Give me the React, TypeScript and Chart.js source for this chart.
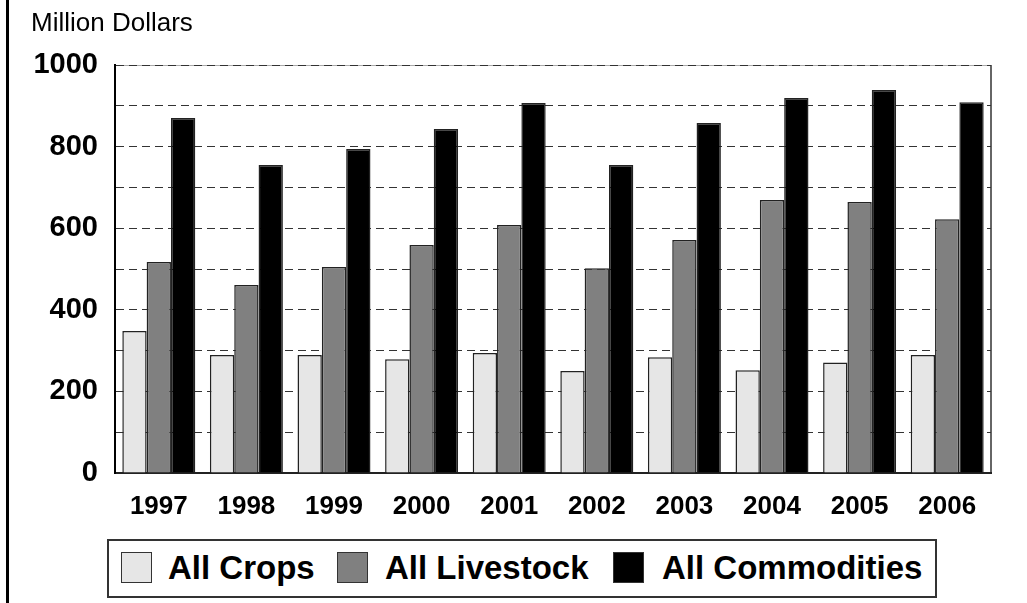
import React, { useEffect, useRef } from "react";
import { Chart, registerables } from "chart.js";

Chart.register(...registerables);

const years = ["1997", "1998", "1999", "2000", "2001", "2002", "2003", "2004", "2005", "2006"];
const allCrops = [348, 289, 289, 279, 294, 250, 284, 252, 271, 289];
const allLivestock = [517, 461, 505, 559, 608, 502, 571, 669, 664, 622];
const allCommodities = [870, 755, 794, 843, 907, 755, 858, 919, 939, 909];
const seriesNames = ["All Crops", "All Livestock", "All Commodities"];
const seriesColors = ["#e6e6e6", "#808080", "#000000"];

const FONT = '"Liberation Sans", Arial, Helvetica, sans-serif';

const framePlugin = {
  id: "frame",
  beforeDraw(chart: any) {
    const { ctx, chartArea } = chart;
    ctx.save();
    ctx.fillStyle = "#ffffff";
    ctx.fillRect(0, 0, chart.width, chart.height);
    ctx.strokeStyle = "#aaaaaa";
    ctx.lineWidth = 1;
    ctx.beginPath();
    ctx.moveTo(chartArea.left, chartArea.top + 0.5);
    ctx.lineTo(chartArea.right, chartArea.top + 0.5);
    ctx.stroke();
    ctx.strokeStyle = "#666666";
    ctx.lineWidth = 2;
    ctx.beginPath();
    ctx.moveTo(chartArea.right, chartArea.top);
    ctx.lineTo(chartArea.right, chartArea.bottom);
    ctx.stroke();
    ctx.restore();
  },
};

export default function App() {
  const canvasRef = useRef<HTMLCanvasElement | null>(null);

  useEffect(() => {
    const canvas = canvasRef.current;
    if (!canvas) return;
    const values = [allCrops, allLivestock, allCommodities];
    const chart = new Chart(canvas, {
      type: "bar",
      data: {
        labels: years,
        datasets: seriesNames.map((name, i) => ({
          label: name,
          data: values[i],
          backgroundColor: seriesColors[i],
          borderColor: "#222222",
          borderWidth: 1.5,
          categoryPercentage: 0.833,
          barPercentage: 1.0,
        })),
      },
      options: {
        responsive: false,
        animation: false,
        devicePixelRatio: 1,
        layout: { padding: { top: 65, right: 36, left: 0, bottom: 0 } },
        plugins: {
          legend: { display: false },
          tooltip: { enabled: false },
          title: { display: false },
        },
        scales: {
          x: {
            type: "category",
            grid: { display: false, drawTicks: false },
            border: { display: true, color: "#222222", width: 2 },
            ticks: {
              color: "#000000",
              font: { family: FONT, size: 26, weight: "bold" },
              padding: 18,
              maxRotation: 0,
              autoSkip: false,
            },
            afterFit: (scale: any) => {
              scale.height = 67;
            },
          },
          y: {
            min: 0,
            max: 1000,
            grid: { color: "#333333", lineWidth: 1, drawTicks: false },
            border: { display: true, color: "#000000", width: 2, dash: [8, 5] },
            ticks: {
              stepSize: 100,
              color: "#000000",
              font: { family: FONT, size: 29, weight: "bold" },
              padding: 17,
              autoSkip: false,
              callback: (v: any) => (Number(v) % 200 === 0 ? String(v) : ""),
            },
            afterFit: (scale: any) => {
              scale.width = 115;
            },
          },
        },
      },
      plugins: [framePlugin],
    });
    return () => chart.destroy();
  }, []);

  const legendItems = [
    { box: 121, text: 168 },
    { box: 337, text: 385 },
    { box: 613, text: 662 },
  ];

  return (
    <div
      style={{
        position: "fixed",
        left: 0,
        top: 0,
        width: 1027,
        height: 603,
        background: "#ffffff",
        overflow: "hidden",
        fontFamily: FONT,
      }}
    >
      <canvas
        ref={canvasRef}
        width={1027}
        height={540}
        style={{ position: "absolute", left: 0, top: 0, width: 1027, height: 540 }}
      />
      <div style={{ position: "absolute", left: 6, top: 0, width: 3, height: 603, background: "#000" }} />
      <div
        style={{
          position: "absolute",
          left: 31,
          top: 9,
          fontSize: 26,
          lineHeight: "26px",
          color: "#000",
          whiteSpace: "nowrap",
        }}
      >
        Million Dollars
      </div>
      <div
        style={{
          position: "absolute",
          left: 107,
          top: 539,
          width: 830,
          height: 59,
          boxSizing: "border-box",
          border: "2px solid #333",
          background: "#fff",
        }}
      />
      {legendItems.map((it, i) => (
        <React.Fragment key={seriesNames[i]}>
          <div
            style={{
              position: "absolute",
              left: it.box,
              top: 552,
              width: 31,
              height: 31,
              boxSizing: "border-box",
              border: "1px solid #333",
              background: seriesColors[i],
            }}
          />
          <div
            style={{
              position: "absolute",
              left: it.text,
              top: 551,
              fontSize: 33,
              lineHeight: "33px",
              fontWeight: "bold",
              color: "#000",
              whiteSpace: "nowrap",
            }}
          >
            {seriesNames[i]}
          </div>
        </React.Fragment>
      ))}
    </div>
  );
}
